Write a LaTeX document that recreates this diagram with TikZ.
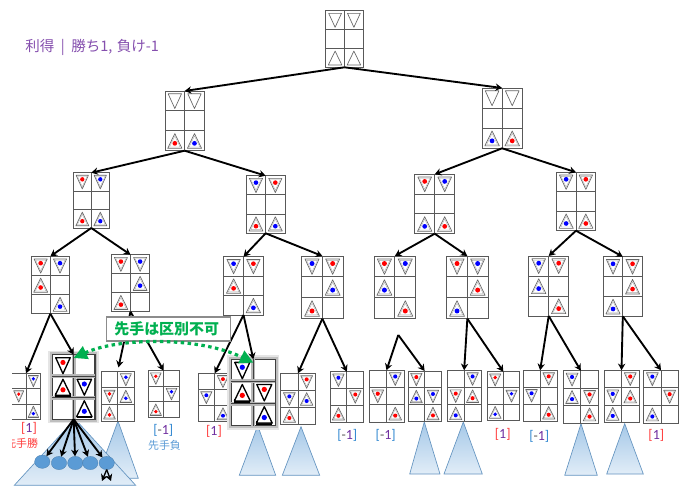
\documentclass[tikz,border=0pt]{standalone}
\usepackage{fontspec}
\newfontfamily\cjk{Noto Sans CJK JP}
\newfontfamily\carl{Carlito}
\usetikzlibrary{arrows.meta,shapes.geometric}
\definecolor{gridgray}{HTML}{595959}
\definecolor{trigray}{HTML}{666666}
\definecolor{purp}{HTML}{7030A0}
\definecolor{winred}{HTML}{FF3B3B}
\definecolor{losblue}{HTML}{2E86D0}
\definecolor{boxgreen}{HTML}{00B050}
\definecolor{leafblue}{HTML}{5B9BD5}
\tikzset{
	boardbox/.style={draw=gridgray, line width=.7pt, fill=white, inner sep=0, outer sep=0},
	cellline/.style={draw=gridgray, line width=.7pt},
	tri/.style={draw=trigray, line width=.5pt, fill=white, line join=round},
	triin/.style={draw=trigray!55, line width=.25pt},
	basebar/.style={opacity=0},
	edge/.style={draw=black, line width=1.4pt, -{Stealth[length=5pt,width=5.5pt]}},
	cone/.style={draw=leafblue!75!gray, line width=.5pt, top color=leafblue!55, bottom color=leafblue!18},
	leaf/.style={ellipse, fill=leafblue, draw=leafblue!80!black, line width=.2pt, minimum width=11.5pt, minimum height=10pt, inner sep=0, outer sep=0},
	res/.style={font=\carl\fontsize{10.5}{12}\selectfont, inner sep=0},
	who/.style={font=\cjk\fontsize{8.2}{10}\selectfont, inner sep=0},
	hiboard/.style={
		boardbox/.style={draw=black!75, line width=.9pt, fill=white, inner sep=0, outer sep=0},
		cellline/.style={draw=black!75, line width=.9pt, preaction={draw=black!28, line width=3pt}},
		tri/.style={draw=black, line width=1pt, fill=white, line join=round},
		triin/.style={opacity=0},
		basebar/.style={fill=black}
	}
}
\newcommand{\pco}{}
\newcommand{\pcdn}{\draw[tri] (-.34,-.36) -- (.34,-.36) -- (0,.38) -- cycle;}
\newcommand{\pcup}{\fill[basebar] (-.36,.3) rectangle (.36,.46); \draw[tri] (-.36,.38) -- (.36,.38) -- (0,-.36) -- cycle;}
\newcommand{\pcdotdn}[1]{\pcdn \draw[triin] (-.26,-.29) -- (.26,-.29) -- (0,.26) -- cycle; \fill[#1] (0,-.14) circle (.12);}
\newcommand{\pcdotup}[1]{\pcup \draw[triin] (-.27,.31) -- (.27,.31) -- (0,-.24) -- cycle; \fill[#1] (0,.13) circle (.12);}
\newcommand{\pcdr}{\pcdotdn{red}}
\newcommand{\pcdb}{\pcdotdn{blue}}
\newcommand{\pcur}{\pcdotup{red}}
\newcommand{\pcub}{\pcdotup{blue}}
\newcommand{\board}[6]{
	\node[boardbox, minimum width={(#4-#2)*.75pt}, minimum height={(#5-#3)*.75pt}] (#1) at ({(#2+#4)/2}, {(#3+#5)/2}) {};
	\pgfmathsetmacro\cellw{(#4-#2)/2}
	\pgfmathsetmacro\cellh{(#5-#3)/3}
	\draw[cellline] (#1.north) to (#1.south);
	\draw[cellline] (#2, {#3+\cellh}) to (#4, {#3+\cellh});
	\draw[cellline] (#2, {#3+2*\cellh}) to (#4, {#3+2*\cellh});
	\foreach \cellcode [count=\k from 0] in {#6}{
		\pgfmathsetmacro\cx{#2+\cellw*(mod(\k,2)+.5)}
		\pgfmathsetmacro\cy{#3+\cellh*(floor(\k/2)+.5)}
		\begin{scope}[shift={(\cx, \cy)}, xscale=\cellw, yscale=\cellh]
			\csname pc\cellcode\endcsname
		\end{scope}
	}
}
\newcommand{\halo}[4]{
	\draw[black!10, line width=6pt] (#1, #2) rectangle (#3, #4);
	\draw[black!25, line width=3.5pt] (#1, #2) rectangle (#3, #4);
}
\newcommand{\winres}{\textcolor{winred}{[}\textcolor{purp}{1}\textcolor{winred}{]}}
\newcommand{\losres}{\textcolor{losblue}{[}\textcolor{gridgray}{-}\textcolor{purp}{1}\textcolor{losblue}{]}}
\begin{document}
\begin{tikzpicture}[x=.75pt, y=-.75pt]
	\useasboundingbox (0, 0) rectangle (686, 486);

	\node[anchor=west, inner sep=0, text=purp!85, font=\cjk\fontsize{10.9}{12}\selectfont] (gain) at (25, 47.5) {利得\hspace{.45em}|\hspace{.45em}勝ち1,\hspace{.3em}負け-1};

	\draw[cone] (118, 421) -- (138.3, 478.3) -- (97, 478.3) -- cycle;
	\draw[cone] (75, 419) -- (135.7, 485.3) -- (14.3, 485.3) -- cycle;
	\draw[cone] (257.7, 425.7) -- (275.7, 475.3) -- (239.3, 475.3) -- cycle;
	\draw[cone] (301, 426.7) -- (319.7, 475.3) -- (282.3, 475.3) -- cycle;
	\draw[cone] (424.3, 422) -- (440, 474) -- (409.7, 474) -- cycle;
	\draw[cone] (463.3, 422) -- (482.3, 474) -- (444, 474) -- cycle;
	\draw[cone] (581, 423.7) -- (597.3, 475.3) -- (564.7, 475.3) -- cycle;
	\draw[cone] (624.7, 423.7) -- (643.3, 474) -- (606.7, 474) -- cycle;

	\board{root}{325.7}{10.7}{363.3}{67.3}{dn,dn,o,o,up,up}

	\board{lft}{165}{91}{204.3}{150.7}{dn,dn,o,o,ur,ub}
	\board{rgt}{482}{88}{522.3}{148.3}{dn,dn,o,o,ub,ur}

	\board{la}{73.3}{172.7}{109.3}{228}{dr,db,o,o,ur,ub}
	\board{lb}{246.3}{175.7}{285}{233.3}{db,dr,o,o,ur,ub}
	\board{ra}{414.7}{174.3}{454.7}{233.7}{dr,db,o,o,ub,ur}
	\board{rb}{556.3}{172.3}{595.7}{230.7}{db,dr,o,o,ub,ur}

	\board{laa}{31}{256.3}{69.7}{313.7}{dr,db,ur,o,o,ub}
	\board{lab}{111.3}{254.7}{149.7}{311.7}{dr,db,o,ub,ur,o}
	\board{lba}{223.7}{256.7}{263.3}{315}{db,dr,ur,o,o,ub}
	\board{lbb}{301.7}{256}{343}{318.7}{db,dr,o,ub,ur,o}
	\board{raa}{374}{256}{415.7}{318.7}{dr,db,ub,o,o,ur}
	\board{rab}{446.7}{256}{488}{318.7}{dr,db,o,ur,ub,o}
	\board{rba}{528.7}{256}{568.7}{316}{db,dr,ub,o,o,ur}
	\board{rbb}{603.3}{256.7}{642.3}{316.3}{db,dr,o,ur,ub,o}

	\begin{scope}
		\clip (12, 360) rectangle (60, 455);
		\board{laaa}{11.4}{373.3}{40.7}{419.3}{o,db,dr,o,o,ub}
		\node[who, text=winred] (laaatxt) at (21.7, 443) {先手勝};
	\end{scope}
	\node[res] (laaares) at (29, 428) {\winres};

	\halo{52.3}{354.7}{95}{419.3}
	\begin{scope}[hiboard]
		\board{laab}{52.3}{354.7}{95}{419.3}{dr,o,ur,db,o,ub}
	\end{scope}

	\board{laba}{101.3}{371.3}{134}{421}{o,db,dr,ub,ur,o}
	\board{labb}{148}{370.7}{179.3}{417.3}{dr,o,o,db,ur,o}
	\node[res] (labbres) at (163.3, 430.7) {\losres};
	\node[who, text=leafblue] (labbtxt) at (164.5, 445) {先手負};

	\board{lbaa}{198}{373.3}{231.3}{421.7}{o,dr,db,o,o,ub}
	\node[res] (lbaares) at (214, 431.7) {\winres};

	\halo{231.3}{359.3}{275.3}{425.7}
	\begin{scope}[hiboard]
		\board{lbab}{231.3}{359.3}{275.3}{425.7}{db,o,ur,dr,o,ub}
	\end{scope}

	\board{lbba}{280.7}{373.3}{315.3}{424.3}{o,dr,db,ub,ur,o}
	\board{lbbb}{330}{371.7}{363.7}{422}{db,o,o,dr,ur,o}
	\node[res] (lbbbres) at (347.3, 435) {\losres};

	\board{raaa}{369}{370.3}{404}{422}{o,db,dr,o,o,ur}
	\node[res] (raaares) at (385.7, 435) {\losres};
	\board{raab}{408}{371}{441.3}{421.7}{dr,o,ub,db,o,ur}

	\board{raba}{447.3}{370.3}{481}{421.7}{o,db,dr,ur,ub,o}
	\board{rabb}{487}{371.7}{519.7}{420.3}{dr,o,o,db,ub,o}
	\node[res] (rabbres) at (502.7, 434) {\winres};

	\board{rbaa}{523}{370.3}{557.3}{421}{o,dr,db,o,o,ur}
	\node[res] (rbaares) at (539.3, 436.7) {\losres};
	\board{rbab}{563.3}{370.7}{598.3}{423}{db,o,ub,dr,o,ur}

	\board{rbba}{604}{370.3}{639}{422.3}{o,dr,db,ur,ub,o}
	\board{rbbb}{643.7}{370.3}{678.3}{423}{db,o,o,dr,ub,o}
	\node[res] (rbbbres) at (656.3, 435) {\winres};

	\node[leaf] (lfa) at (42.3, 461.7) {};
	\node[leaf] (lfb) at (59, 463) {};
	\node[leaf] (lfc) at (75.3, 463) {};
	\node[leaf] (lfd) at (90.3, 463) {};
	\node[leaf] (lfe) at (106.7, 463) {};
	\coordinate (lfel) at (102, 481);
	\coordinate (lfer) at (111, 481);
	\coordinate (rafree) at (398.3, 335);

	\draw[edge] (root.south) to (lft.north);
	\draw[edge] (root.south) to (rgt.north);
	\draw[edge] (lft.south) to (la.north);
	\draw[edge] (lft.south) to (lb.north);
	\draw[edge] (rgt.south) to (ra.north);
	\draw[edge] (rgt.south) to (rb.north);
	\draw[edge] (la.south) to (laa.north);
	\draw[edge] (la.south) to (lab.north);
	\draw[edge] (lb.south) to (lba.north);
	\draw[edge] (lb.south) to (lbb.north);
	\draw[edge] (ra.south) to (raa.north);
	\draw[edge] (ra.south) to (rab.north);
	\draw[edge] (rb.south) to (rba.north);
	\draw[edge] (rb.south) to (rbb.north);

	\draw[edge] (laa.south) to (laaa.north);
	\draw[edge] (laa.south) to (laab.north);
	\draw[edge, shorten >=3pt] (lab.south) to (laba.north);
	\draw[edge] (lab.south) to (labb.north);
	\draw[edge] (lba.south) to (lbaa.north);
	\draw[edge] (lba.south) to (lbab.north);
	\draw[edge] (lbb.south) to (lbba.north);
	\draw[edge] (lbb.south) to (lbbb.north);
	\draw[edge] (rafree) to (raaa.north);
	\draw[edge] (rafree) to (raab.north);
	\draw[edge] (rab.south) to (raba.north);
	\draw[edge] (rab.south) to (rabb.north);
	\draw[edge] (rba.south) to (rbaa.north);
	\draw[edge] (rba.south) to (rbab.north);
	\draw[edge] (rbb.south) to (rbba.north);
	\draw[edge] (rbb.south) to (rbbb.north);

	\draw[edge] (laab.south) to (lfa);
	\draw[edge] (laab.south) to (lfb);
	\draw[edge] (laab.south) to (lfc);
	\draw[edge] (laab.south) to (lfd);
	\draw[edge] (laab.south) to (lfe);
	\draw[edge, line width=1pt] (lfe.south) to (lfel);
	\draw[edge, line width=1pt] (lfe.south) to (lfer);

	\node[draw=black!45, line width=.8pt, fill=white, inner sep=0, minimum width=93pt, minimum height=18pt, text=boxgreen, font=\cjk\bfseries\fontsize{11.2}{13}\selectfont] (note) at (168.7, 329) {\hspace{-3pt}先手は区別不可};
	\draw[boxgreen, line width=2.4pt, dash pattern=on 2.6pt off 2.6pt, {Triangle[length=10pt,width=10pt]}-{Triangle[length=10pt,width=10pt]}] ([yshift=-2.5pt]laab.north) .. controls (120, 337) and (200, 337) .. ([yshift=-2.5pt]lbab.north);
\end{tikzpicture}
\end{document}
